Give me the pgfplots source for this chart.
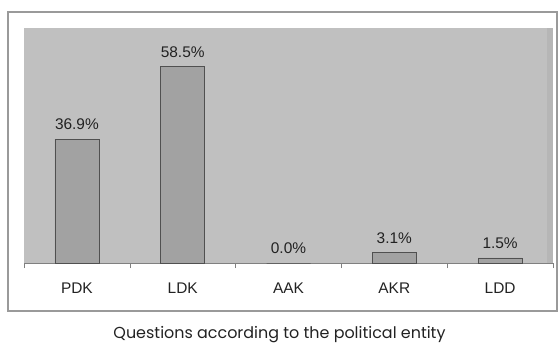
\documentclass[border=0pt]{standalone}
\usepackage{pgfplots}
\pgfplotsset{compat=1.18}
\usepackage{fontspec}
\setmainfont{Liberation Sans}
\newfontfamily\titlefont{Poppins}
\definecolor{bgc}{HTML}{C0C0C0}
\definecolor{barc}{HTML}{A2A2A2}
\definecolor{edgec}{HTML}{505050}
\definecolor{framec}{HTML}{9A9A9A}
\definecolor{stripc}{HTML}{B6B6B6}
\definecolor{txtc}{HTML}{222222}
\begin{document}
\begin{tikzpicture}[x=1bp,y=1bp]
\path[use as bounding box] (0,0) rectangle (558,344);
\draw[color=framec, line width=1.3bp] (8,33) rectangle (557,332);
\begin{axis}[
  at={(24bp,81bp)}, anchor=south west,
  scale only axis, width=529bp, height=235bp,
  xmin=-0.5, xmax=4.5, ymin=0, ymax=70,
  axis background/.style={fill=bgc},
  axis x line*=bottom, axis y line=none,
  x axis line style={color=gray, line width=0.8bp, -},
  xtick={0,1,2,3,4},
  xticklabels={PDK,LDK,AAK,AKR,LDD},
  minor xtick={-0.5,0.5,1.5,2.5,3.5,4.5},
  major tick length=0pt, minor tick length=5bp,
  tick align=outside,
  every minor tick/.style={color=gray, line width=0.6bp},
  ytick=\empty,
  /pgf/number format/assume math mode=true,
  xticklabel style={font=\fontsize{15.5}{18}\selectfont, color=txtc, anchor=base, yshift=-30bp},
  clip=false,
]
\fill[stripc] (rel axis cs:0.9887,0) rectangle (rel axis cs:1,1);
\addplot[ybar, bar width=44bp, fill=barc, draw=edgec, line width=0.7bp,
  nodes near coords={\pgfmathprintnumber[fixed,fixed zerofill,precision=1,assume math mode=true]{\pgfplotspointmeta}\%},
  every node near coord/.append style={font=\fontsize{15.5}{18}\selectfont, color=txtc, anchor=base, yshift=9.5bp, inner sep=0pt}]
  coordinates {(0,36.9) (1,58.5) (2,0) (3,3.1) (4,1.5)};
\end{axis}
\node[font=\titlefont\fontsize{16}{19}\selectfont, color=txtc, anchor=base] at (279.5,6) {Questions according to the political entity};
\end{tikzpicture}
\end{document}
